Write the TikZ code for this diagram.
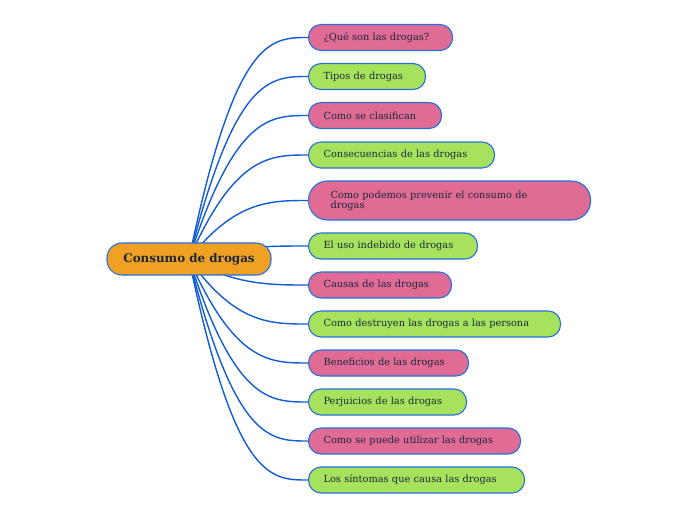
\documentclass[tikz,border=0pt]{standalone}
\usepackage{fontspec}
\setmainfont{DejaVu Serif}
\usetikzlibrary{backgrounds}
\definecolor{pinkf}{RGB}{224,107,148}
\definecolor{greenf}{RGB}{166,226,92}
\definecolor{orangef}{RGB}{240,160,34}
\definecolor{bord}{RGB}{38,112,222}
\definecolor{conn}{RGB}{18,92,212}
\definecolor{txt}{RGB}{28,40,58}
\tikzset{
  leaf/.style={draw=bord, line width=1.1pt, rounded corners=12.5pt, anchor=west,
    minimum height=26pt, inner xsep=15pt, inner ysep=0pt, align=left,
    font=\fontsize{9.8}{11}\selectfont, text=txt},
  pinkleaf/.style={leaf, fill=pinkf},
  greenleaf/.style={leaf, fill=greenf},
  root/.style={draw=bord, line width=1.1pt, fill=orangef, rounded corners=15pt,
    minimum width=164pt, minimum height=32pt, inner sep=0pt,
    font=\bfseries\fontsize{11.9}{13}\selectfont, text=txt},
  link/.style={draw=conn, line width=1.4pt}
}
\begin{document}
\begin{tikzpicture}[x=1pt, y=-1pt]
\useasboundingbox (0,0) rectangle (696,520);
\node[root] (c) at (189,259) {Consumo de drogas};
\coordinate (cc) at (235,259);
\node[pinkleaf, text width=114pt] (n1) at (308,37.5) {\mbox{¿Qué son las drogas?}};
\node[greenleaf, text width=87pt] (n2) at (308,76.5) {\mbox{Tipos de drogas}};
\node[pinkleaf, text width=103pt] (n3) at (308,115.5) {\mbox{Como se clasifican}};
\node[greenleaf, text width=156pt] (n4) at (308,155) {\mbox{Consecuencias de las drogas}};
\node[pinkleaf, text width=238pt, inner xsep=22pt, minimum height=39pt, rounded corners=19pt] (n5) at (308,200.5) {Como podemos prevenir el consumo de\\[-1pt]drogas};
\node[greenleaf, text width=139pt] (n6) at (308,246) {\mbox{El uso indebido de drogas}};
\node[pinkleaf, text width=113pt] (n7) at (308,285) {\mbox{Causas de las drogas}};
\node[greenleaf, text width=222pt] (n8) at (308,324) {\mbox{Como destruyen las drogas a las persona}};
\node[pinkleaf, text width=130pt] (n9) at (308,363) {\mbox{Beneficios de las drogas}};
\node[greenleaf, text width=128pt] (n10) at (308,402) {\mbox{Perjuicios de las drogas}};
\node[pinkleaf, text width=182pt] (n11) at (308,441) {\mbox{Como se puede utilizar las drogas}};
\node[greenleaf, text width=186pt] (n12) at (308,480) {\mbox{Los síntomas que causa las drogas}};
\begin{scope}[on background layer]
\fill[white] (0,0) rectangle (696,520);
\foreach \i in {1,...,12}
  \draw[link] (c.center) .. controls (cc |- n\i.west) and ([xshift=-38pt]n\i.west) .. (n\i.west);
\end{scope}
\end{tikzpicture}
\end{document}
